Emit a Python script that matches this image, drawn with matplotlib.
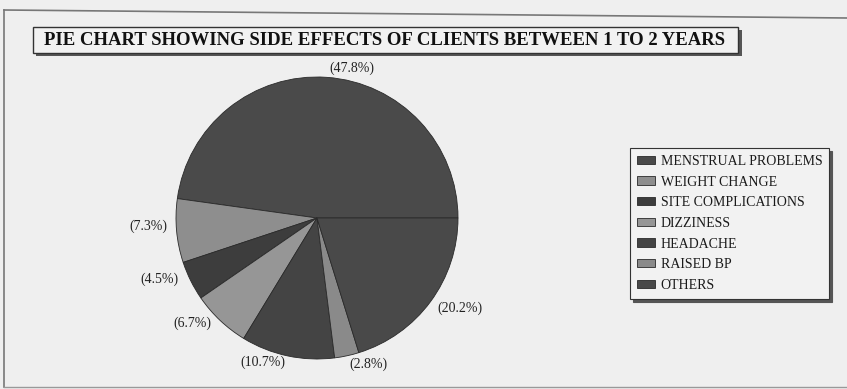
import matplotlib.pyplot as plt
import numpy as np
from matplotlib.patches import Rectangle

# side effects reported by clients (1 to 2 years), percent
effects = ["MENSTRUAL PROBLEMS", "WEIGHT CHANGE", "SITE COMPLICATIONS",
           "DIZZINESS", "HEADACHE", "RAISED BP", "OTHERS"]
percent = [47.8, 7.3, 4.5, 6.7, 10.7, 2.8, 20.2]

shades = ["#4a4a4a", "#8e8e8e", "#3d3d3d", "#969696", "#444444", "#8a8a8a", "#494949"]
# label placement: radial distance and angular nudge (deg) per slice
label_dist = [1.09, 1.20, 1.20, 1.16, 1.09, 1.10, 1.20]
label_turn = [-9, -2.4, -5.3, -6.4, -8.6, 7, 4]

W, H = 847, 389
fig = plt.figure(figsize=(W / 100, H / 100), dpi=100, facecolor="#efefef")
plt.rcParams['font.family'] = ['Liberation Serif', 'DejaVu Serif']

# outer frame (slightly skewed top edge)
frame = fig.add_axes([0, 0, 1, 1])
frame.set_xlim(0, W)
frame.set_ylim(H, 0)
frame.axis('off')
frame.plot([4, 4], [10, 387], color="#777777", lw=1.2)
frame.plot([4, W], [10, 18], color="#777777", lw=1.2)
frame.plot([4, W], [387, 387], color="#999999", lw=1.0)

# title box with shadow
frame.add_patch(Rectangle((36, 30), 706, 26, facecolor="#555555", edgecolor="none"))
frame.add_patch(Rectangle((33, 27), 705, 26, facecolor="#f2f2f2", edgecolor="#333333", lw=1.0))
frame.text(385, 40, "PIE CHART SHOWING SIDE EFFECTS OF CLIENTS BETWEEN 1 TO 2 YEARS",
           ha="center", va="center", fontsize=13.5, fontweight="bold", color="#111111")

# pie
cx, cy, r = 317, 218, 141
ax = fig.add_axes([(cx - r) / W, (H - cy - r) / H, 2 * r / W, 2 * r / H])
wedges, _ = ax.pie(percent, colors=shades, startangle=0, counterclock=True,
                   wedgeprops=dict(edgecolor="#2a2a2a", linewidth=0.6))
ax.set_xlim(-1, 1)
ax.set_ylim(-1, 1)
ax.set_aspect('equal')

for w, p, d, t in zip(wedges, percent, label_dist, label_turn):
    ang = np.deg2rad((w.theta1 + w.theta2) / 2 + t)
    ax.text(d * np.cos(ang), d * np.sin(ang), f"({p}%)", ha="center", va="center",
            fontsize=10, color="#222222", clip_on=False)

leg = fig.legend(wedges, effects, loc="upper left", bbox_to_anchor=(630 / W, 1 - 148 / H),
                 borderaxespad=0, frameon=True, fancybox=False,
                 shadow={'color': '#555555', 'alpha': 1},
                 handlelength=1.3, handleheight=0.55, handletextpad=0.4,
                 labelspacing=0.55, fontsize=10, borderpad=0.5)
leg.get_frame().set_edgecolor("#333333")
leg.get_frame().set_facecolor("#f2f2f2")
leg.get_frame().set_linewidth(0.8)
for t in leg.get_texts():
    t.set_color("#1a1a1a")

fig.savefig("out.png", dpi=100, facecolor=fig.get_facecolor())
